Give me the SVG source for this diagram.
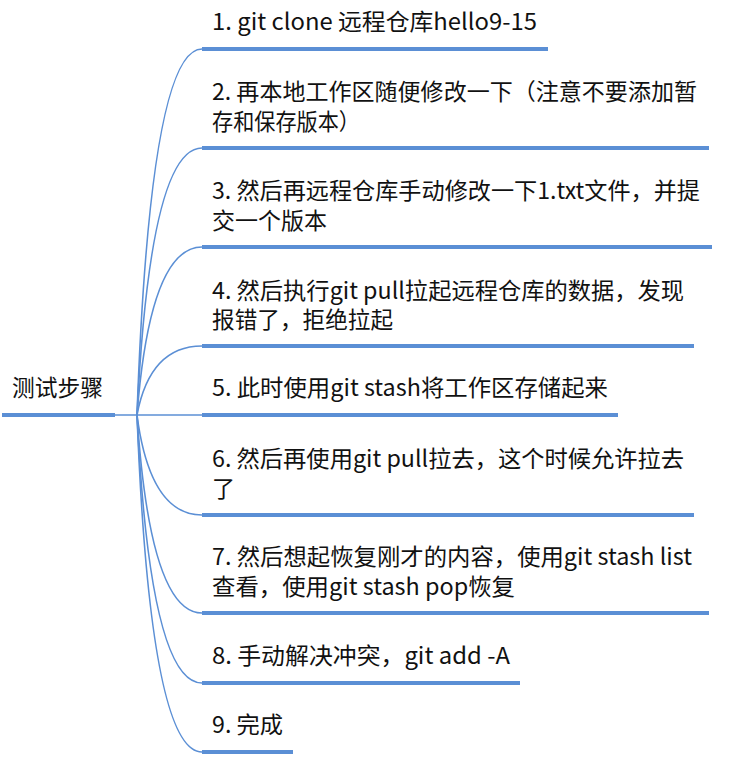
<svg xmlns="http://www.w3.org/2000/svg" width="729" height="771" viewBox="0 0 729 771">
<style>
.t{font-family:"Microsoft YaHei","Noto Sans CJK SC","Noto Sans",sans-serif;font-size:23px;fill:#111;}
.u{stroke:#5B8FD5;stroke-width:4;fill:none;}
.c{stroke:#5B8FD5;stroke-width:1.6;fill:none;}
</style>
<rect width="729" height="771" fill="#fff"/>
<g id="connectors">
<path class="c" d="M115,415 L202,415"/>
<path class="c" d="M137,415 Q150,49 202,49"/>
<path class="c" d="M137,415 Q150,148 202,148"/>
<path class="c" d="M137,415 Q150,247 202,247"/>
<path class="c" d="M137,415 Q150,346 202,346"/>
<path class="c" d="M137,415 Q150,515 202,515"/>
<path class="c" d="M137,415 Q150,613 202,613"/>
<path class="c" d="M137,415 Q150,683 202,683"/>
<path class="c" d="M137,415 Q150,752 202,752"/>
</g>
<g id="root"><text class="t" x="12" y="396" textLength="91" lengthAdjust="spacingAndGlyphs">测试步骤</text><line class="u" x1="2" y1="415" x2="115" y2="415"/></g>
<g id="n1"><text class="t" x="212" y="30" textLength="325" lengthAdjust="spacingAndGlyphs">1. git clone 远程仓库hello9-15</text><line class="u" x1="202" y1="49" x2="548" y2="49"/></g>
<g id="n2"><text class="t" x="212" y="100" textLength="485" lengthAdjust="spacingAndGlyphs">2. 再本地工作区随便修改一下（注意不要添加暂</text><text class="t" x="212" y="130" textLength="148" lengthAdjust="spacingAndGlyphs">存和保存版本）</text><line class="u" x1="202" y1="148" x2="709" y2="148"/></g>
<g id="n3"><text class="t" x="212" y="199" textLength="488" lengthAdjust="spacingAndGlyphs">3. 然后再远程仓库手动修改一下1.txt文件，并提</text><text class="t" x="212" y="229" textLength="115" lengthAdjust="spacingAndGlyphs">交一个版本</text><line class="u" x1="202" y1="247" x2="712" y2="247"/></g>
<g id="n4"><text class="t" x="212" y="299" textLength="472" lengthAdjust="spacingAndGlyphs">4. 然后执行git pull拉起远程仓库的数据，发现</text><text class="t" x="212" y="328" textLength="181" lengthAdjust="spacingAndGlyphs">报错了，拒绝拉起</text><line class="u" x1="202" y1="346" x2="694" y2="346"/></g>
<g id="n5"><text class="t" x="212" y="396" textLength="396" lengthAdjust="spacingAndGlyphs">5. 此时使用git stash将工作区存储起来</text><line class="u" x1="202" y1="415" x2="618" y2="415"/></g>
<g id="n6"><text class="t" x="212" y="467" textLength="472" lengthAdjust="spacingAndGlyphs">6. 然后再使用git pull拉去，这个时候允许拉去</text><text class="t" x="212" y="497">了</text><line class="u" x1="202" y1="515" x2="694" y2="515"/></g>
<g id="n7"><text class="t" x="212" y="565" textLength="480" lengthAdjust="spacingAndGlyphs">7. 然后想起恢复刚才的内容，使用git stash list</text><text class="t" x="212" y="595" textLength="303" lengthAdjust="spacingAndGlyphs">查看，使用git stash pop恢复</text><line class="u" x1="202" y1="613" x2="709" y2="613"/></g>
<g id="n8"><text class="t" x="212" y="664" textLength="298" lengthAdjust="spacingAndGlyphs">8. 手动解决冲突，git add -A</text><line class="u" x1="202" y1="683" x2="520" y2="683"/></g>
<g id="n9"><text class="t" x="212" y="733" textLength="71" lengthAdjust="spacingAndGlyphs">9. 完成</text><line class="u" x1="202" y1="752" x2="293" y2="752"/></g>
</svg>
